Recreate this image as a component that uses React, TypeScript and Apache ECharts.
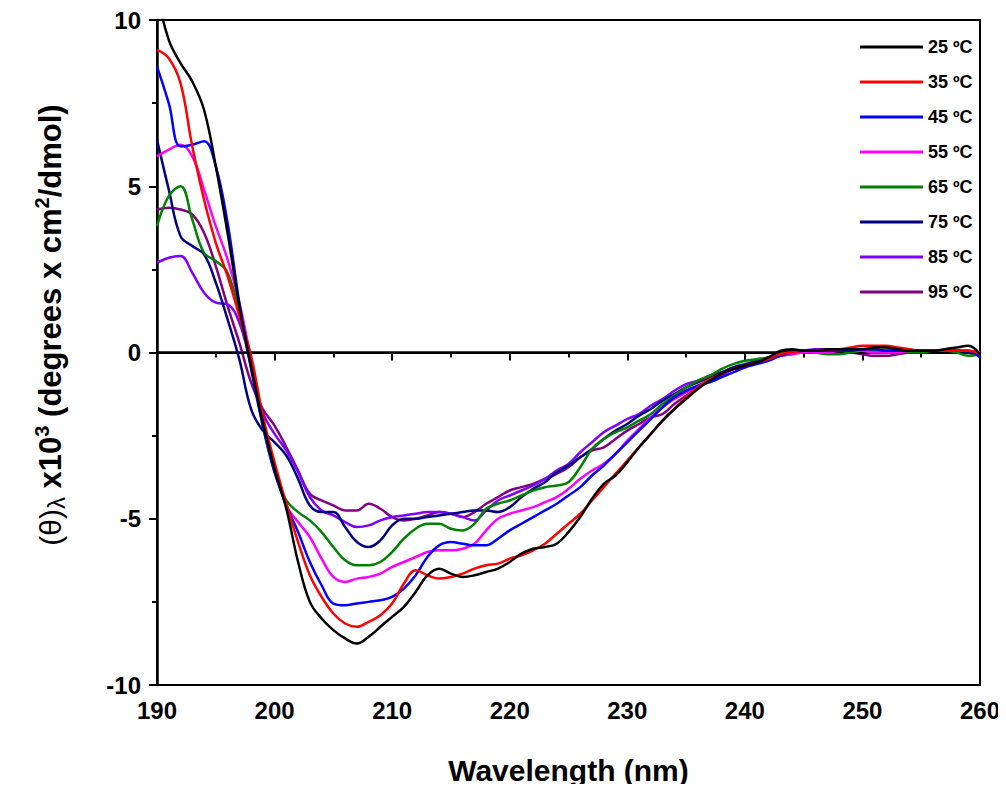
import React, { useEffect, useRef } from "react";
import * as echarts from "echarts";

const wavelengths: number[] = [];
for (let w = 190; w <= 260; w++) wavelengths.push(w);

const seriesNames = ["25 ºC", "35 ºC", "45 ºC", "55 ºC", "65 ºC", "75 ºC", "85 ºC", "95 ºC"];
const seriesColors = ["#000000", "#ff0000", "#0000ff", "#ff00ff", "#008000", "#000080", "#8000ff", "#800080"];

const t25 = [10.8, 9.4, 8.7, 8.15, 7.3, 5.6, 3.6, 1.4, -0.4, -2.1, -3.5, -4.7, -6.3, -7.5, -8.0, -8.35, -8.6, -8.75, -8.55, -8.25, -7.95, -7.65, -7.2, -6.7, -6.5, -6.65, -6.75, -6.7, -6.6, -6.5, -6.3, -6.05, -5.9, -5.85, -5.75, -5.4, -4.95, -4.4, -3.95, -3.7, -3.3, -2.85, -2.45, -2.05, -1.7, -1.4, -1.1, -0.85, -0.65, -0.5, -0.4, -0.3, -0.15, 0.05, 0.1, 0.05, 0.05, 0.1, 0.1, 0.1, 0.1, 0.15, 0.15, 0.1, 0.05, 0.05, 0.05, 0.1, 0.15, 0.2, -0.05];
const t35 = [9.1, 8.85, 8.1, 6.2, 4.6, 3.3, 2.3, 1.1, -0.1, -1.9, -3.3, -4.55, -5.7, -6.7, -7.35, -7.85, -8.15, -8.25, -8.1, -7.9, -7.55, -6.95, -6.55, -6.7, -6.8, -6.75, -6.65, -6.5, -6.4, -6.35, -6.2, -6.1, -5.95, -5.75, -5.45, -5.15, -4.85, -4.45, -4.05, -3.65, -3.25, -2.85, -2.45, -2.05, -1.7, -1.35, -1.05, -0.8, -0.65, -0.5, -0.4, -0.3, -0.2, -0.05, 0.0, 0.05, 0.05, 0.1, 0.1, 0.15, 0.2, 0.2, 0.2, 0.15, 0.1, 0.05, 0.05, 0.05, 0.05, 0.05, -0.05];
const t45 = [8.6, 7.5, 6.2, 6.25, 6.35, 5.6, 3.9, 1.5, -0.5, -2.2, -3.6, -4.6, -5.4, -6.3, -7.0, -7.55, -7.6, -7.55, -7.5, -7.45, -7.35, -7.1, -6.7, -6.15, -5.8, -5.7, -5.75, -5.8, -5.8, -5.6, -5.35, -5.15, -4.95, -4.75, -4.55, -4.3, -4.05, -3.7, -3.4, -3.05, -2.7, -2.35, -2.0, -1.65, -1.35, -1.15, -1.0, -0.9, -0.75, -0.6, -0.45, -0.35, -0.25, -0.1, 0.0, 0.05, 0.05, 0.05, 0.05, 0.05, 0.1, 0.1, 0.05, 0.05, 0.05, 0.05, 0.05, 0.05, 0.05, 0.05, -0.15];
const t55 = [5.9, 6.1, 6.25, 5.9, 4.9, 3.8, 2.8, 1.5, -0.2, -2.0, -3.4, -4.6, -5.1, -5.55, -6.2, -6.75, -6.9, -6.8, -6.75, -6.65, -6.45, -6.3, -6.15, -6.0, -5.95, -5.95, -5.9, -5.75, -5.35, -5.0, -4.85, -4.75, -4.65, -4.5, -4.35, -4.1, -3.8, -3.55, -3.35, -3.05, -2.65, -2.3, -1.95, -1.65, -1.4, -1.2, -1.0, -0.85, -0.7, -0.5, -0.4, -0.3, -0.2, -0.1, -0.05, 0.0, 0.0, 0.0, 0.05, 0.05, 0.05, 0.0, 0.0, 0.0, 0.05, 0.05, 0.05, 0.05, 0.05, 0.05, 0.0];
const t65 = [3.8, 4.7, 5.0, 4.0, 3.0, 2.75, 2.4, 1.2, -0.3, -2.2, -3.6, -4.45, -4.8, -5.05, -5.4, -5.85, -6.25, -6.4, -6.4, -6.3, -6.0, -5.6, -5.3, -5.15, -5.15, -5.3, -5.35, -5.15, -4.7, -4.55, -4.45, -4.3, -4.15, -4.05, -4.0, -3.9, -3.45, -2.9, -2.6, -2.4, -2.25, -2.05, -1.85, -1.55, -1.3, -1.05, -0.85, -0.7, -0.5, -0.35, -0.25, -0.2, -0.15, -0.05, 0.0, 0.05, 0.0, -0.05, -0.05, 0.0, 0.05, 0.05, 0.05, 0.05, 0.0, 0.0, 0.05, 0.05, 0.0, -0.1, -0.05];
const t75 = [6.4, 4.9, 3.5, 3.2, 2.95, 2.1, 1.0, -0.2, -1.7, -2.35, -2.7, -3.1, -3.8, -4.6, -4.8, -4.8, -5.25, -5.7, -5.85, -5.65, -5.2, -5.0, -5.0, -4.95, -4.9, -4.85, -4.8, -4.75, -4.75, -4.8, -4.65, -4.35, -4.1, -3.9, -3.6, -3.4, -3.15, -2.9, -2.6, -2.35, -2.15, -1.9, -1.7, -1.45, -1.25, -1.05, -0.9, -0.75, -0.6, -0.45, -0.35, -0.25, -0.15, -0.05, 0.05, 0.05, 0.05, 0.05, 0.05, 0.05, 0.05, 0.05, 0.05, 0.05, 0.05, 0.05, 0.05, 0.05, 0.05, 0.0, -0.1];
const t85 = [2.7, 2.85, 2.9, 2.4, 1.8, 1.5, 1.45, 0.9, -0.4, -1.8, -2.45, -2.95, -3.6, -4.35, -4.75, -4.9, -5.1, -5.25, -5.2, -5.05, -4.95, -4.9, -4.85, -4.8, -4.8, -4.85, -4.95, -5.05, -4.75, -4.45, -4.3, -4.15, -4.0, -3.8, -3.55, -3.35, -3.0, -2.7, -2.4, -2.2, -2.0, -1.85, -1.6, -1.4, -1.15, -0.95, -0.85, -0.7, -0.6, -0.5, -0.4, -0.3, -0.2, -0.1, 0.0, 0.05, 0.1, 0.1, 0.05, 0.05, 0.0, 0.0, 0.0, 0.05, 0.05, 0.05, 0.05, 0.0, 0.0, 0.0, -0.05];
const t95 = [4.3, 4.35, 4.3, 4.15, 3.6, 2.6, 1.4, 0.3, -0.9, -1.7, -2.2, -2.85, -3.55, -4.25, -4.45, -4.6, -4.75, -4.75, -4.55, -4.7, -4.95, -5.05, -5.0, -4.9, -4.8, -4.85, -4.95, -4.8, -4.55, -4.35, -4.15, -4.05, -3.95, -3.8, -3.65, -3.45, -3.15, -2.95, -2.85, -2.6, -2.35, -2.15, -1.95, -1.85, -1.55, -1.3, -1.05, -0.85, -0.65, -0.5, -0.4, -0.3, -0.2, -0.1, -0.05, 0.0, 0.0, 0.05, 0.05, 0.0, -0.05, -0.1, -0.1, -0.05, 0.0, 0.05, 0.05, 0.05, 0.05, 0.0, -0.05];

const seriesValues = [t25, t35, t45, t55, t65, t75, t85, t95];

const xTicks = { min: 190, max: 260, interval: 10 };
const yTicks = { min: -10, max: 10, interval: 5 };

const FONT = "'Liberation Sans', Arial, sans-serif";

export default function App() {
  const ref = useRef<HTMLDivElement>(null);
  useEffect(() => {
    if (!ref.current) return;
    const chart = echarts.init(ref.current, undefined, { renderer: "svg" });
    const series: any[] = seriesNames.map((name, i) => ({
      name,
      type: "line",
      data: wavelengths.map((w, j) => [w, seriesValues[i][j]]),
      showSymbol: false,
      symbol: "none",
      smooth: 0.4,
      clip: true,
      lineStyle: { color: seriesColors[i], width: 2.5 },
      itemStyle: { color: seriesColors[i] },
      z: 3 + (7 - i),
    }));
    series[0].markLine = {
      silent: true,
      symbol: "none",
      label: { show: false },
      lineStyle: { color: "#000", width: 2, type: "solid" },
      data: [{ yAxis: 0 }],
    };
    chart.setOption({
      animation: false,
      backgroundColor: "#fff",
      grid: {
        left: 157,
        right: 26,
        top: 20,
        bottom: 107,
        show: true,
        borderColor: "#000",
        borderWidth: 2,
        backgroundColor: "transparent",
      },
      legend: {
        orient: "vertical",
        left: 855,
        top: 33,
        itemWidth: 63,
        itemHeight: 18,
        itemGap: 17,
        icon: "path://M0,8 L63,8 L63,11 L0,11 Z",
        textStyle: { fontFamily: FONT, fontWeight: "bold", fontSize: 18, lineHeight: 18, color: "#000" },
        data: seriesNames,
      },
      xAxis: {
        type: "value",
        min: xTicks.min,
        max: xTicks.max,
        interval: xTicks.interval,
        name: "Wavelength (nm)",
        nameLocation: "middle",
        nameGap: 70,
        nameTextStyle: { fontFamily: FONT, fontWeight: "bold", fontSize: 30, color: "#000" },
        axisLine: { show: true, lineStyle: { color: "#000", width: 2.5 } },
        axisTick: { show: true, inside: false, length: 8, lineStyle: { color: "#000", width: 2 } },
        minorTick: { show: true, splitNumber: 2, length: 5, lineStyle: { color: "#000", width: 2 } },
        splitLine: { show: false },
        axisLabel: { fontFamily: FONT, fontWeight: "bold", fontSize: 24, color: "#000", margin: 13 },
      },
      yAxis: {
        type: "value",
        min: yTicks.min,
        max: yTicks.max,
        interval: yTicks.interval,
        axisLine: { show: true, lineStyle: { color: "#000", width: 2.5 } },
        axisTick: { show: true, inside: false, length: 8, lineStyle: { color: "#000", width: 2 } },
        minorTick: { show: true, splitNumber: 2, length: 5, lineStyle: { color: "#000", width: 2 } },
        splitLine: { show: false },
        axisLabel: { fontFamily: FONT, fontWeight: "bold", fontSize: 24, color: "#000", margin: 16 },
      },
      graphic: [
        {
          type: "text",
          x: 50,
          y: 325,
          rotation: Math.PI / 2,
          style: {
            text: "{n|(θ)}{s|λ}{b| x10}{p|3}{b| (degrees x cm}{p|2}{b|/dmol)}",
            align: "center",
            verticalAlign: "middle",
            fill: "#000",
            rich: {
              n: { fontFamily: FONT, fontWeight: "normal", fontSize: 30, lineHeight: 36, verticalAlign: "middle", fill: "#000" },
              s: { fontFamily: FONT, fontWeight: "normal", fontSize: 24, lineHeight: 36, verticalAlign: "bottom", fill: "#000" },
              b: { fontFamily: FONT, fontWeight: "bold", fontSize: 31, lineHeight: 36, verticalAlign: "middle", fill: "#000" },
              p: { fontFamily: FONT, fontWeight: "bold", fontSize: 20, lineHeight: 36, verticalAlign: "top", fill: "#000" },
            },
          },
        },
      ],
      series,
    });
    return () => chart.dispose();
  }, []);
  return <div ref={ref} style={{ width: 1006, height: 792, margin: -8 }} />;
}
